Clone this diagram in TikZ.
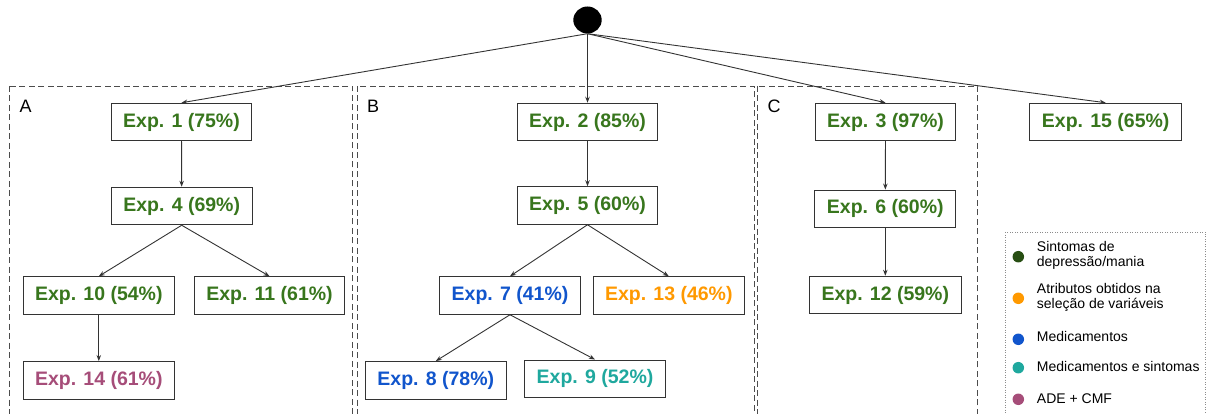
\documentclass[tikz,border=0pt]{standalone}
\usepackage{fontspec}
\setmainfont{Liberation Sans}
\usetikzlibrary{arrows.meta,shapes.geometric}

\definecolor{expgreen}{HTML}{38761D}
\definecolor{expblue}{HTML}{1155CC}
\definecolor{exporange}{HTML}{FF9900}
\definecolor{expteal}{HTML}{1FA89E}
\definecolor{exppurple}{HTML}{A64D79}
\definecolor{darkgreen}{HTML}{274E13}
\definecolor{edgegray}{HTML}{333333}

\tikzset{
  expbox/.style={draw=edgegray, line width=1pt, fill=white, inner xsep=12pt,
    minimum height=37.5pt, font=\fontsize{19.5}{22}\selectfont\bfseries},
  link/.style={draw=edgegray, line width=0.9pt, -{Stealth[length=6pt,width=4.5pt]}},
  group/.style={draw=black!70, line width=0.9pt, dash pattern=on 6pt off 3.5pt},
  grouplabel/.style={font=\fontsize{18}{20}\selectfont, inner sep=0pt},
  legendframe/.style={draw=black!45, line width=0.9pt, dash pattern=on 1pt off 1.5pt},
  dot/.style={circle, inner sep=0pt, minimum size=11.5pt},
  legendtext/.style={anchor=west, align=left, inner sep=0pt,
    font=\fontsize{14}{15.6}\selectfont}
}

\begin{document}
\begin{tikzpicture}[x=1pt, y=-1pt]
  \useasboundingbox (0,0) rectangle (1212,414);
  \clip (0,0) rectangle (1212,414);

  % group frames (run past the lower edge)
  \draw[group] (9,86) rectangle (352.3,430);
  \draw[group] (357.3,86) rectangle (754,430);
  \draw[group] (757.3,86) rectangle (977.7,430);
  \node[grouplabel] (lA) at (25.7,106.7) {A};
  \node[grouplabel] (lB) at (373,106.7) {B};
  \node[grouplabel] (lC) at (774,106.7) {C};

  % root
  \node[ellipse, fill=black, minimum width=28.4pt, minimum height=27pt, inner sep=0pt] (root) at (587.5,20) {};

  % experiments
  \node[expbox, text=expgreen] (e1) at (181.5,122) {Exp. 1 (75\%)};
  \node[expbox, text=expgreen] (e4) at (181.7,206) {Exp. 4 (69\%)};
  \node[expbox, text=expgreen] (e10) at (98.8,295.5) {Exp. 10 (54\%)};
  \node[expbox, text=expgreen] (e11) at (269.5,295.5) {Exp. 11 (61\%)};
  \node[expbox, text=exppurple] (e14) at (98.8,380.3) {Exp. 14 (61\%)};

  \node[expbox, text=expgreen] (e2) at (587.5,122) {Exp. 2 (85\%)};
  \node[expbox, text=expgreen] (e5) at (587.5,205.5) {Exp. 5 (60\%)};
  \node[expbox, text=expblue] (e7) at (510,295.5) {Exp. 7 (41\%)};
  \node[expbox, text=exporange] (e13) at (668.8,295.5) {Exp. 13 (46\%)};
  \node[expbox, text=expblue] (e8) at (435.8,380.3) {Exp. 8 (78\%)};
  \node[expbox, text=expteal] (e9) at (595,378.8) {Exp. 9 (52\%)};

  \node[expbox, text=expgreen] (e3) at (885.5,122) {Exp. 3 (97\%)};
  \node[expbox, text=expgreen] (e6) at (885.3,208.8) {Exp. 6 (60\%)};
  \node[expbox, text=expgreen] (e12) at (885.3,295) {Exp. 12 (59\%)};

  \node[expbox, text=expgreen] (e15) at (1105.7,122) {Exp. 15 (65\%)};

  % connectors
  \draw[link] (root.south) -- (e1.north);
  \draw[link] (root.south) -- (e2.north);
  \draw[link] (root.south) -- (e3.north);
  \draw[link] (root.south) -- (e15.north);
  \draw[link] (e1) -- (e4);
  \draw[link] (e4.south) -- (e10.north);
  \draw[link] (e4.south) -- (e11.north);
  \draw[link] (e10) -- (e14);
  \draw[link] (e2) -- (e5);
  \draw[link] (e5.south) -- (e7.north);
  \draw[link] (e5.south) -- (e13.north);
  \draw[link] (e7.south) -- (e8.north);
  \draw[link] (e7.south) -- (e9.north);
  \draw[link] (e3) -- (e6);
  \draw[link] (e6) -- (e12);

  % legend
  \draw[legendframe] (1005.5,232) rectangle (1205,430);
  \node[dot, fill=darkgreen] (d1) at (1018.3,256.7) {};
  \node[legendtext] (t1) at (1036.7,255.5) {Sintomas de\\depressão/mania};
  \node[dot, fill=exporange] (d2) at (1018.3,298.3) {};
  \node[legendtext] (t2) at (1036.7,297.3) {Atributos obtidos na\\seleção de variáveis};
  \node[dot, fill=expblue] (d3) at (1018.3,339.3) {};
  \node[legendtext] (t3) at (1036.7,336.7) {Medicamentos};
  \node[dot, fill=expteal] (d4) at (1018.3,367.7) {};
  \node[legendtext] (t4) at (1036.7,366.7) {Medicamentos e sintomas};
  \node[dot, fill=exppurple] (d5) at (1018.3,399.3) {};
  \node[legendtext] (t5) at (1036.7,398.3) {ADE + CMF};
\end{tikzpicture}
\end{document}
